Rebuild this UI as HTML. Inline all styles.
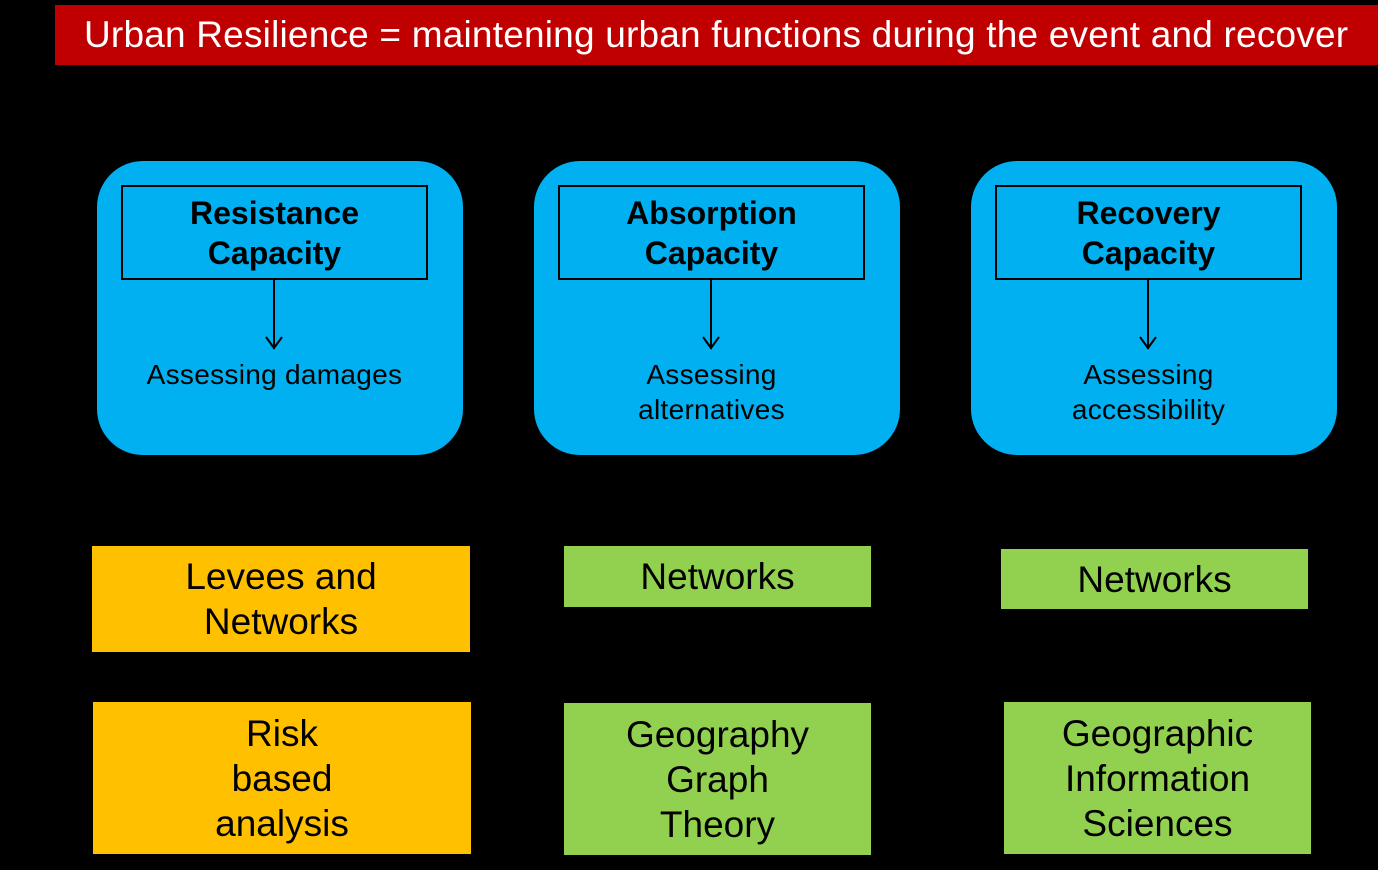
<!DOCTYPE html>
<html><head><meta charset="utf-8"><style>
body{margin:0;width:1378px;height:870px;background:#000;position:relative;overflow:hidden;font-family:"Liberation Sans",sans-serif;}
.a{position:absolute;box-sizing:border-box;display:flex;align-items:center;justify-content:center;text-align:center;}
.hdr{left:55px;top:5px;width:1323px;height:60px;background:#c00000;color:#fff;font-size:37px;letter-spacing:0.2px;justify-content:flex-start;padding-left:29px;white-space:nowrap;}
.blue{position:absolute;width:366px;height:294px;top:161px;background:#00b0f0;border-radius:46px;}
.inner{position:absolute;left:24px;top:24px;width:307px;height:95px;border:2px solid #000;box-sizing:border-box;display:flex;align-items:center;justify-content:center;text-align:center;font-weight:bold;font-size:32px;line-height:40px;}
.ln{position:absolute;left:176px;top:119px;width:2px;height:69px;background:#000;}
.sub{position:absolute;left:0;width:355px;top:196px;text-align:center;font-size:28px;letter-spacing:0.3px;line-height:35px;white-space:nowrap;}
.o{background:#ffc000;font-size:37px;line-height:45px;}
.g{background:#92d050;font-size:37px;line-height:45px;}
</style></head><body>
<div class="a hdr">Urban Resilience = maintening urban functions during the event and recover</div>

<div class="blue" style="left:97px">
<div class="inner">Resistance<br>Capacity</div>
<div class="ln"></div>
<svg style="position:absolute;left:167px;top:174px" width="20" height="16"><polyline points="2,2 10,13 18,2" fill="none" stroke="#000" stroke-width="2"/></svg>
<div class="sub">Assessing damages</div>
</div>

<div class="blue" style="left:534px">
<div class="inner">Absorption<br>Capacity</div>
<div class="ln"></div>
<svg style="position:absolute;left:167px;top:174px" width="20" height="16"><polyline points="2,2 10,13 18,2" fill="none" stroke="#000" stroke-width="2"/></svg>
<div class="sub">Assessing<br>alternatives</div>
</div>

<div class="blue" style="left:971px">
<div class="inner">Recovery<br>Capacity</div>
<div class="ln"></div>
<svg style="position:absolute;left:167px;top:174px" width="20" height="16"><polyline points="2,2 10,13 18,2" fill="none" stroke="#000" stroke-width="2"/></svg>
<div class="sub">Assessing<br>accessibility</div>
</div>

<div class="a o" style="left:92px;top:546px;width:378px;height:106px;">Levees and<br>Networks</div>
<div class="a g" style="left:564px;top:546px;width:307px;height:61px;">Networks</div>
<div class="a g" style="left:1001px;top:549px;width:307px;height:60px;">Networks</div>
<div class="a o" style="left:93px;top:702px;width:378px;height:152px;">Risk<br>based<br>analysis</div>
<div class="a g" style="left:564px;top:703px;width:307px;height:152px;">Geography<br>Graph<br>Theory</div>
<div class="a g" style="left:1004px;top:702px;width:307px;height:152px;">Geographic<br>Information<br>Sciences</div>
</body></html>
